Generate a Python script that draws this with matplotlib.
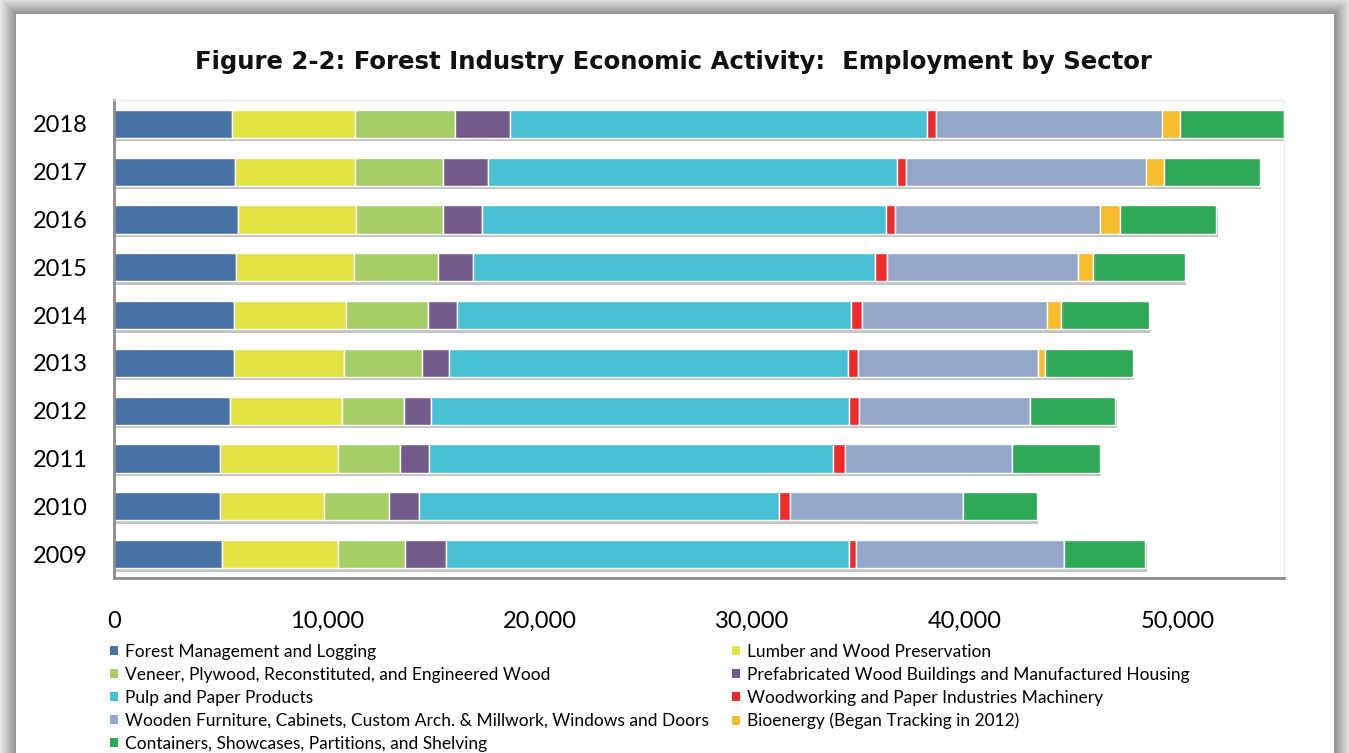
import numpy as np
import matplotlib
matplotlib.use("Agg")
import matplotlib.pyplot as plt
import matplotlib.patheffects as pe
from matplotlib.patches import Patch
from matplotlib.ticker import FuncFormatter

# data (2009 .. 2018)
years = ["2009", "2010", "2011", "2012", "2013", "2014", "2015", "2016", "2017", "2018"]

forest_mgmt = [5060, 4990, 4990, 5460, 5640, 5650, 5730, 5830, 5670, 5530]
lumber = [5480, 4880, 5530, 5260, 5190, 5260, 5550, 5530, 5640, 5800]
veneer = [3140, 3050, 2920, 2920, 3660, 3860, 3960, 4110, 4140, 4720]
prefab = [1950, 1410, 1350, 1280, 1240, 1370, 1620, 1840, 2140, 2575]
pulp = [18930, 16930, 19010, 19630, 18760, 18520, 18890, 18960, 19240, 19580]
machinery = [315, 500, 565, 485, 500, 520, 565, 460, 420, 440]
furniture = [9780, 8150, 7870, 8020, 8440, 8690, 9010, 9630, 11250, 10600]
bioenergy = [0, 0, 0, 0, 320, 670, 690, 930, 880, 860]
containers = [3820, 3470, 4100, 4010, 4130, 4110, 4320, 4530, 4470, 4910]

sectors = [
    "Forest Management and Logging",
    "Lumber and Wood Preservation",
    "Veneer, Plywood, Reconstituted, and Engineered Wood",
    "Prefabricated Wood Buildings and Manufactured Housing",
    "Pulp and Paper Products",
    "Woodworking and Paper Industries Machinery",
    "Wooden Furniture, Cabinets, Custom Arch. & Millwork, Windows and Doors",
    "Bioenergy (Began Tracking in 2012)",
    "Containers, Showcases, Partitions, and Shelving",
]
series = [forest_mgmt, lumber, veneer, prefab, pulp, machinery, furniture, bioenergy, containers]
colors = ["#4872A4", "#E2E344", "#A5CE67", "#735B8C", "#47C0D3",
          "#EE2A2A", "#93A7CA", "#F6BC2C", "#2EAA57"]

W, H = 1349, 753
fig = plt.figure(figsize=(W / 100, H / 100), dpi=100)

# grey window frame around the white chart panel
bg = fig.add_axes([0, 0, 1, 1])
yy, xx = np.mgrid[0:H, 0:W]
d = np.maximum(np.maximum(16 - xx, xx - 1333), 14 - yy)
gray = np.where(d <= 0, 1.0, 0.56 + 0.022 * np.clip(d, 0, 16))
bg.imshow(np.dstack([gray] * 3), extent=(0, 1, 0, 1), aspect="auto")
bg.axis("off")

ax = fig.add_axes([114 / W, 1 - 578 / H, 1170 / W, 478 / H])

ypos = np.arange(len(years))
left = np.zeros(len(years))
for vals, col in zip(series, colors):
    vals = np.array(vals, dtype=float)
    bars = ax.barh(ypos, vals, left=left, height=0.59, color=col,
                   edgecolor="white", linewidth=1)
    for b in bars:
        b.set_path_effects([pe.SimplePatchShadow(offset=(1, -2.5), shadow_rgbFace="#555555", alpha=0.35),
                            pe.Normal()])
    left += vals

ax.set_xlim(0, 55000)
ax.set_ylim(-0.5, 9.5)
ax.set_xticks(range(0, 50001, 10000))
ax.xaxis.set_major_formatter(FuncFormatter(lambda v, p: f"{int(v):,}"))
ax.set_yticks(ypos)
ax.set_yticklabels(years)
ax.tick_params(axis="both", length=0, labelsize=17, colors="black")
ax.tick_params(axis="x", pad=24)
ax.tick_params(axis="y", pad=19)
for lab in ax.get_xticklabels() + ax.get_yticklabels():
    lab.set_family("Lato")

for s in ["left", "bottom"]:
    ax.spines[s].set_color("#8a8a8a")
    ax.spines[s].set_linewidth(2)
for s in ["top", "right"]:
    ax.spines[s].set_color("#eeeeee")
    ax.spines[s].set_linewidth(1)
ax.set_facecolor("white")

fig.text(0.499, 1 - 62 / H, "Figure 2-2: Forest Industry Economic Activity:  Employment by Sector",
         ha="center", va="center", fontsize=17.6, fontweight="bold", family="DejaVu Sans",
         color="#111111")

# legend: two columns, filled row by row
handles = [Patch(facecolor=c, edgecolor="none") for c in colors]
leg_kw = dict(loc="upper left", frameon=False, borderpad=0, borderaxespad=0,
              handlelength=0.45, handleheight=0.45, handletextpad=0.4,
              labelspacing=0.4, prop={"family": "Lato", "size": 12.5})
fig.legend(handles[0::2], sectors[0::2], bbox_to_anchor=(110 / W, 1 - 644 / H), **leg_kw)
fig.legend(handles[1::2], sectors[1::2], bbox_to_anchor=(732 / W, 1 - 644 / H), **leg_kw)

fig.savefig("out.png", dpi=100)
